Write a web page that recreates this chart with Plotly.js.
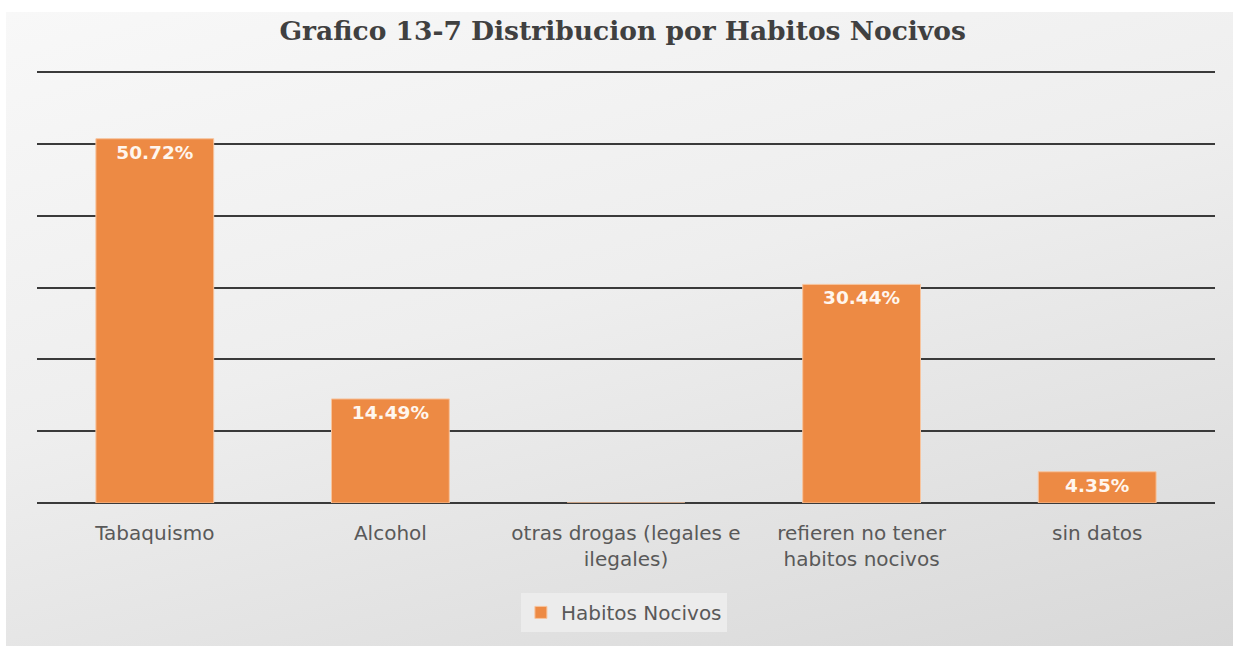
<!DOCTYPE html>
<html>
<head>
<meta charset="utf-8">
<script src="https://cdn.plot.ly/plotly-3.0.1.min.js"></script>
<style>
  html, body { margin: 0; padding: 0; background: #ffffff; }
  #bg { position: absolute; left: 6px; top: 12px; width: 1227px; height: 634px;
        background: linear-gradient(165deg, #f8f8f8 0%, #eeeeee 45%, #d8d8d8 100%); }
  #chart { position: absolute; left: 0; top: 0; width: 1233px; height: 646px; }
</style>
</head>
<body>
<div id="bg"></div>
<div id="chart"></div>
<script>
const categories = [
  "Tabaquismo",
  "Alcohol",
  "otras drogas (legales e<br>ilegales)",
  "refieren no tener<br>habitos nocivos",
  "sin datos"
];
const values = [0.5072, 0.1449, 0.0, 0.3044, 0.0435];
const seriesName = "Habitos Nocivos";
const yTicks = [0, 0.1, 0.2, 0.3, 0.4, 0.5, 0.6];

const trace = {
  type: "bar",
  x: categories,
  y: values,
  name: seriesName,
  width: 0.5,
  marker: { color: "#ED8A44", line: { color: "#F7C49E", width: 1 } },
  texttemplate: "%{y:.2%}",
  textposition: "inside",
  insidetextanchor: "end",
  constraintext: "none",
  textangle: 0,
  textfont: { family: "DejaVu Sans, sans-serif", size: 18.5, color: "#fff6ee", weight: "bold" },
  hoverinfo: "x+y",
  showlegend: true
};

const layout = {
  width: 1233,
  height: 646,
  margin: { l: 37, r: 18, t: 71, b: 143 },
  paper_bgcolor: "rgba(0,0,0,0)",
  plot_bgcolor: "rgba(0,0,0,0)",
  title: {
    text: "<b>Grafico 13-7 Distribucion por Habitos Nocivos</b>",
    font: { family: "DejaVu Serif, serif", size: 26.5, color: "#404040" },
    x: 0.505, xanchor: "center",
    y: 0.952, yanchor: "middle"
  },
  xaxis: {
    type: "category",
    automargin: false,
    showgrid: false,
    zeroline: false,
    showline: false,
    ticks: "",
    ticklabelstandoff: 16,
    tickfont: { family: "DejaVu Sans, sans-serif", size: 20, color: "#595959" },
    fixedrange: true
  },
  yaxis: {
    range: [0, 0.6015],
    automargin: false,
    tickvals: yTicks,
    showticklabels: false,
    showgrid: true,
    gridcolor: "#3a3a3a",
    gridwidth: 2,
    zeroline: true,
    zerolinecolor: "#3a3a3a",
    zerolinewidth: 2,
    showline: false,
    fixedrange: true
  },
  showlegend: true,
  legend: {
    orientation: "h",
    xref: "container",
    yref: "container",
    x: 0.506, xanchor: "center",
    y: 0.052, yanchor: "middle",
    bgcolor: "rgba(236,236,236,0.95)",
    font: { family: "DejaVu Sans, sans-serif", size: 20, color: "#595959" },
    itemwidth: 30
  },
  bargap: 0.5
};

Plotly.newPlot("chart", [trace], layout, { displayModeBar: false, staticPlot: true });
</script>
</body>
</html>
